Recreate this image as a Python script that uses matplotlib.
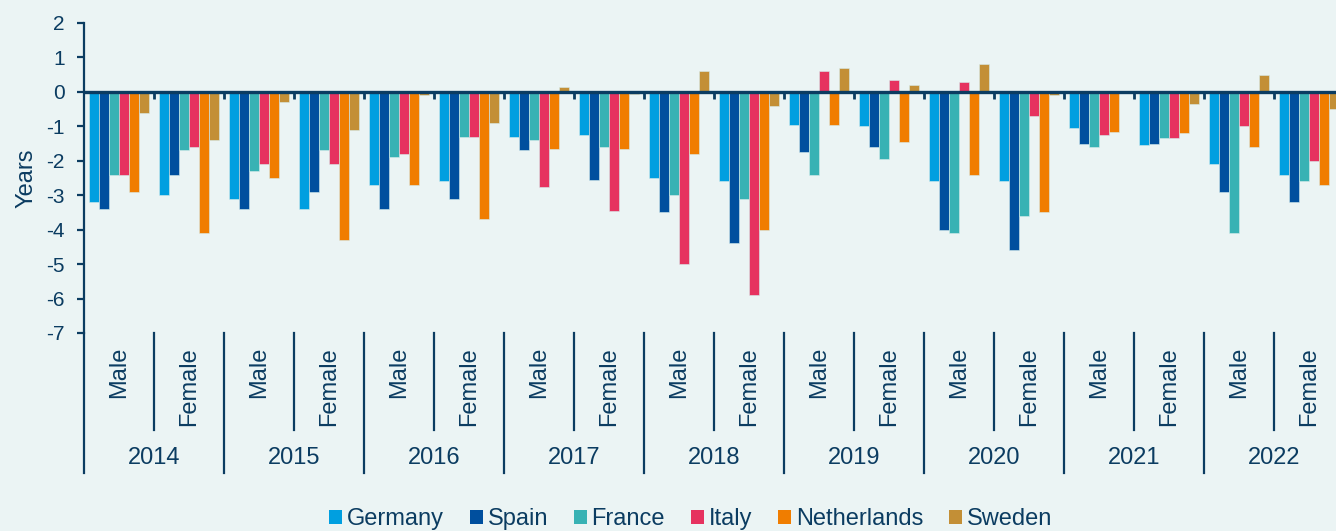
import numpy as np
import matplotlib
matplotlib.use("Agg")
import matplotlib.pyplot as plt
from matplotlib.patches import Patch
from matplotlib.lines import Line2D

plt.rcParams["font.family"] = ["Liberation Sans", "DejaVu Sans"]
plt.rcParams["axes.unicode_minus"] = False

# values: Male/Female for each year, 2014 .. 2022
years = ["2014", "2015", "2016", "2017", "2018", "2019", "2020", "2021", "2022"]
sexes = ["Male", "Female"]
countries = ["Germany", "Spain", "France", "Italy", "Netherlands", "Sweden"]

germany = [-3.2, -3.0, -3.1, -3.4, -2.7, -2.6, -1.3, -1.25, -2.5, -2.6,
           -0.95, -1.0, -2.6, -2.6, -1.05, -1.55, -2.1, -2.4]
spain = [-3.4, -2.4, -3.4, -2.9, -3.4, -3.1, -1.7, -2.55, -3.5, -4.4,
         -1.75, -1.6, -4.0, -4.6, -1.5, -1.5, -2.9, -3.2]
france = [-2.4, -1.7, -2.3, -1.7, -1.9, -1.3, -1.4, -1.6, -3.0, -3.1,
          -2.4, -1.95, -4.1, -3.6, -1.6, -1.35, -4.1, -2.6]
italy = [-2.4, -1.6, -2.1, -2.1, -1.8, -1.3, -2.75, -3.45, -5.0, -5.9,
         0.6, 0.35, 0.3, -0.7, -1.25, -1.35, -1.0, -2.0]
netherlands = [-2.9, -4.1, -2.5, -4.3, -2.7, -3.7, -1.65, -1.65, -1.8, -4.0,
               -0.95, -1.45, -2.4, -3.5, -1.15, -1.2, -1.6, -2.7]
sweden = [-0.6, -1.4, -0.3, -1.1, -0.1, -0.9, 0.15, -0.05, 0.6, -0.4,
          0.7, 0.2, 0.8, -0.1, np.nan, -0.35, 0.5, -0.5]

series = [germany, spain, france, italy, netherlands, sweden]
colors = ["#009FE0", "#004F9E", "#38B2B4", "#E6325F", "#F07D00", "#C38F36"]
navy = "#0B3C61"
bg = "#EBF4F4"

fig = plt.figure(figsize=(13.36, 5.31), dpi=100, facecolor=bg)
# axes runs a bit past the right edge, like the source crop
ax = fig.add_axes([84 / 1336, 198 / 531, 1260 / 1336, 310 / 531])
ax.set_facecolor(bg)

n_groups = len(years) * len(sexes)
x = np.arange(n_groups) + 0.5
w = 1 / 7
for k, (vals, c, name) in enumerate(zip(series, colors, countries)):
    ax.bar(x + (k - 2.5) * w, vals, width=w, color=c, edgecolor="#d6ecec",
           linewidth=0.4, label=name, zorder=2)

ax.set_xlim(0, n_groups)
ax.set_ylim(-7, 2)
ax.set_yticks(range(-7, 3))
ax.axhline(0, color=navy, lw=2.4, zorder=3)
ax.vlines(np.arange(1, n_groups), -0.2, 0, color=navy, lw=2, zorder=3)

for s in ["top", "right", "bottom"]:
    ax.spines[s].set_visible(False)
ax.spines["left"].set_color(navy)
ax.spines["left"].set_linewidth(1.6)
ax.tick_params(axis="x", bottom=False, labelbottom=False)
ax.tick_params(axis="y", colors=navy, labelcolor=navy, labelsize=15,
               length=5, width=1.6, pad=9)
ax.set_ylabel("Years", color=navy, fontsize=17, labelpad=6)

# two-level category axis below the plot
tr = ax.get_xaxis_transform()
for i in range(n_groups):
    ax.text(x[i], -0.045, sexes[i % 2], rotation=90, ha="center", va="top",
            transform=tr, color=navy, fontsize=17)
    if i % 2 == 1:
        ax.add_line(Line2D([i, i], [0, -0.313], transform=tr, color=navy,
                           lw=1.6, clip_on=False))
for j, yr in enumerate(years):
    ax.text(2 * j + 1, -0.403, yr, ha="center", va="center", transform=tr,
            color=navy, fontsize=17)
    ax.add_line(Line2D([2 * j, 2 * j], [0, -0.452], transform=tr, color=navy,
                       lw=1.6, clip_on=False))

handles = [Patch(facecolor=c, edgecolor="none") for c in colors]
fig.legend(handles, countries, loc="center", bbox_to_anchor=(0.517, 0.022),
           ncol=6, frameon=False, fontsize=17, labelcolor=navy,
           handlelength=0.55, handleheight=0.55, handletextpad=0.2,
           columnspacing=1.1)

fig.savefig("out.png", dpi=100, facecolor=bg)
